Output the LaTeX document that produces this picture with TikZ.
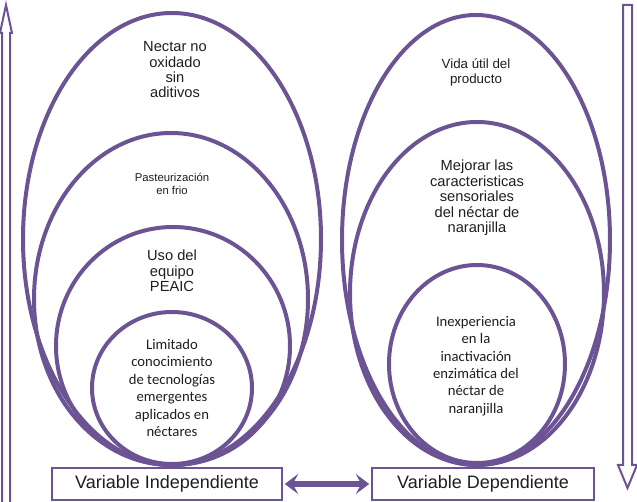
\documentclass[tikz,border=0pt]{standalone}
\usepackage{fontspec}
\setmainfont{Liberation Sans}
\newfontfamily\calibrifont{Carlito}
\definecolor{vpurple}{RGB}{108,84,148}
\definecolor{vtext}{RGB}{30,30,30}
\usetikzlibrary{arrows.meta,positioning}

\begin{document}
\begin{tikzpicture}[
  x=0.75pt, y=-0.75pt,
  ring/.style={draw=vpurple, line width=3pt},
  ringtext/.style={align=center, text=vtext, inner sep=0pt},
  varbox/.style={
    rectangle, draw=vpurple, line width=2.2pt, fill=white,
    minimum height=24pt, inner sep=0pt,
    font=\fontsize{13.5}{15}\selectfont, text=vtext
  },
  hollow/.style={draw=vpurple, line width=1.5pt, fill=white},
  biarrow/.style={{Stealth[length=10pt,width=15pt,inset=4pt]}-{Stealth[length=10pt,width=15pt,inset=4pt]},
    line width=3.8pt, draw=vpurple, shorten <=1pt, shorten >=1pt}
]
\useasboundingbox (0,0) rectangle (637,502);

\draw[ring] (172,239) ellipse (149 and 226);
\draw[ring] (171,299) ellipse (137 and 166);
\draw[ring] (173,346) ellipse (117 and 119);
\draw[ring] (172,388) ellipse (80 and 76);

\draw[ring] (476,240) ellipse (134 and 225);
\draw[ring] (477,293.5) ellipse (127 and 171.5);
\draw[ring] (477,364) ellipse (88 and 99);

\node[ringtext, font=\fontsize{11}{11.5}\selectfont] (nectar) at (175,70)
  {Nectar no\\oxidado\\sin\\aditivos};
\node[ringtext, font=\fontsize{8.5}{9.75}\selectfont] (pasteur) at (172,184)
  {Pasteurización\\en frio};
\node[ringtext, font=\fontsize{11}{11.6}\selectfont] (equipo) at (172,271)
  {Uso del\\equipo\\PEAIC};
\node[ringtext, font=\calibrifont\fontsize{11}{13.1}\selectfont] (limitado) at (172,388)
  {Limitado\\conocimiento\\de tecnologías\\emergentes\\aplicados en\\néctares};

\node[ringtext, font=\fontsize{10}{11.25}\selectfont] (vida) at (476,72)
  {Vida útil del\\producto};
\node[ringtext, font=\fontsize{11}{11.6}\selectfont] (mejorar) at (477,198)
  {Mejorar las\\caracteristicas\\sensoriales\\del néctar de\\naranjilla};
\node[ringtext, font=\calibrifont\fontsize{11}{13}\selectfont] (inexp) at (476,366)
  {Inexperiencia\\en la\\inactivación\\enzimática del\\néctar de\\naranjilla};

\node[varbox, minimum width=172.5pt] (vi) at (167,484) {Variable Independiente};
\node[varbox, minimum width=166.5pt] (vd) at (483,484) {Variable Dependiente};

\draw[biarrow] (vi) -- (vd);

\draw[hollow] (2,503) -- (2,33) -- (0,33) -- (6,5) -- (12,33) -- (10,33) -- (10,503);
\draw[hollow] (623,5) -- (623,465) -- (618,465) -- (627.5,488) -- (637,465)
  -- (632,465) -- (632,5) -- cycle;
\end{tikzpicture}
\end{document}
